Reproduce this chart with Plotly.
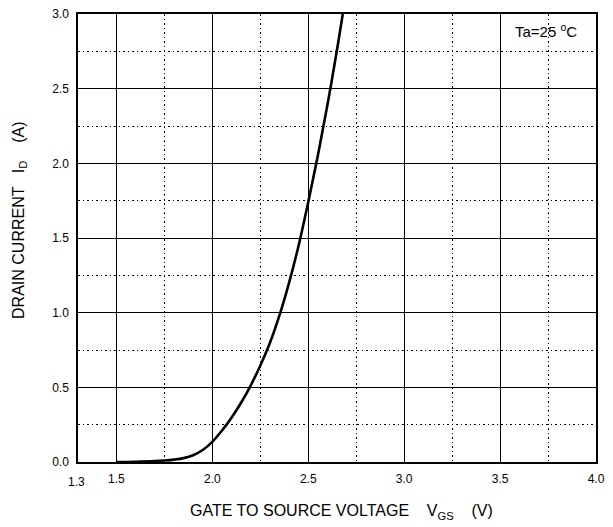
import plotly.graph_objects as go

# Data (Ta = 25 °C)
vgs = [1.50, 1.60, 1.70, 1.75, 1.80, 1.85, 1.90, 1.95, 2.00, 2.05, 2.10, 2.15, 2.20,
       2.25, 2.30, 2.35, 2.40, 2.45, 2.50, 2.55, 2.60, 2.65, 2.68]
id_a = [0.000, 0.002, 0.006, 0.010, 0.016, 0.026, 0.045, 0.080, 0.135, 0.21, 0.297, 0.397, 0.512,
        0.645, 0.797, 0.982, 1.20, 1.45, 1.74, 2.05, 2.39, 2.76, 3.0]

x_range = [1.3, 4.0]
x_major_start, x_major_step, x_minor_step = 1.5, 0.5, 0.25
x_origin_label = "1.3"
y_range = [0.0, 3.0]
y_major_step, y_minor_step = 0.5, 0.25

SP = "&nbsp;"
x_title = SP * 2 + "GATE TO SOURCE VOLTAGE" + SP * 4 + "V<sub>GS</sub>" + SP * 4 + "(V)"
y_title = SP * 8 + "DRAIN CURRENT" + SP * 3 + "I<sub>D</sub>" + SP * 4 + "(A)"
cond_text = "Ta=25 <sup>o</sup>C"

font_family = "Liberation Sans, Arial, sans-serif"
minor_dash = "1.5px,3px"

fig = go.Figure()
fig.add_trace(go.Scatter(
    x=vgs, y=id_a, mode="lines",
    line=dict(color="black", width=2.6, shape="spline", smoothing=1.0),
    showlegend=False, hoverinfo="skip",
))

axis_common = dict(
    showline=True, linecolor="black", linewidth=1.5, mirror=True,
    showgrid=True, gridcolor="black", gridwidth=1.2, griddash="solid",
    zeroline=False, ticks="", tickformat=".1f", automargin=False,
    tickfont=dict(family=font_family, size=12, color="black"),
)

fig.update_xaxes(
    range=x_range, tickmode="linear", tick0=x_major_start, dtick=x_major_step,
    minor=dict(tick0=x_major_start, dtick=x_minor_step, showgrid=True,
               gridcolor="black", gridwidth=1.3, griddash=minor_dash, ticks=""),
    title=dict(text=x_title, font=dict(family=font_family, size=16, color="black"),
               standoff=20),
    ticklabelstandoff=5,
    **axis_common,
)
fig.update_yaxes(
    range=y_range, tickmode="linear", tick0=0, dtick=y_major_step,
    minor=dict(tick0=0, dtick=y_minor_step, showgrid=True,
               gridcolor="black", gridwidth=1.3, griddash=minor_dash, ticks=""),
    title=dict(text=y_title, font=dict(family=font_family, size=16, color="black"),
               standoff=24),
    ticklabelstandoff=5,
    **axis_common,
)

fig.add_annotation(x=x_range[0], y=0, xref="x", yref="paper", text=x_origin_label,
                   showarrow=False, yanchor="top", xanchor="center", yshift=-11, xshift=-2,
                   font=dict(family=font_family, size=12, color="black"))
fig.add_annotation(x=0.903, y=0.963, xref="paper", yref="paper", text=cond_text,
                   showarrow=False, xanchor="center", yanchor="middle",
                   font=dict(family=font_family, size=15, color="black"))

fig.update_layout(
    width=613, height=527,
    margin=dict(l=78, r=17, t=14, b=65),
    plot_bgcolor="white", paper_bgcolor="white",
    font=dict(family=font_family, color="black"),
)

# remove the page's default 8px body margin so the figure fills the window exactly
fig.write_html("out.html", config={"displayModeBar": False},
               post_script="document.body.style.margin='0';")
